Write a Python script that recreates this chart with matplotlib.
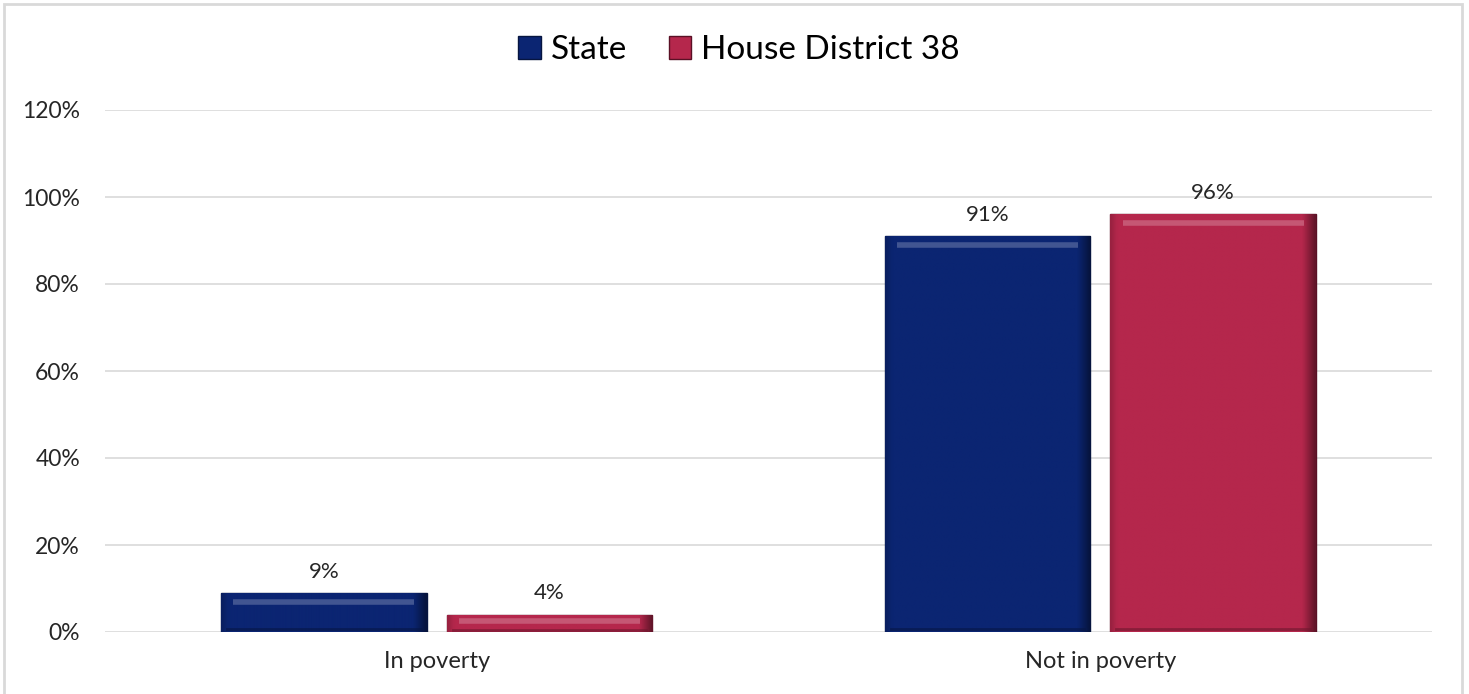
import numpy as np
import matplotlib
matplotlib.use("Agg")
import matplotlib.pyplot as plt
from matplotlib.patches import Rectangle
from matplotlib.colors import to_rgb

categories = ["In poverty", "Not in poverty"]
series_names = ["State", "House District 38"]
state_values = [9, 91]
district_values = [4, 96]
yticks = [0, 20, 40, 60, 80, 100, 120]

colors = ["#0b2572", "#b5274c"]

plt.rcParams['font.family'] = ['Lato', 'DejaVu Sans']

W, H = 1469, 694
fig = plt.figure(figsize=(W / 100, H / 100), dpi=100)
ax = fig.add_axes([105 / W, 1 - 632 / H, (1432 - 105) / W, (632 - 110) / H])

x = np.arange(len(categories))
width = 0.31
offset = 0.17

def bevel(ax, bars, color):
    base = np.array(to_rgb(color))
    for b in bars:
        x0, w, h = b.get_x(), b.get_width(), b.get_height()
        ny, nx = 80, 80
        yy = np.linspace(1, 0, ny)[:, None]
        xx = np.linspace(0, 1, nx)[None, :]
        shade = np.ones((ny, nx))
        shade = shade * (1 - 0.45 * np.clip((xx - 0.94) / 0.06, 0, 1))
        shade = shade * (1 - 0.15 * np.clip((0.03 - xx) / 0.03, 0, 1))
        img = base[None, None, :] * shade[:, :, None]
        im = ax.imshow(np.clip(img, 0, 1), extent=[x0, x0 + w, 0, h],
                       aspect='auto', zorder=3, interpolation='bilinear')
        im.set_clip_path(b)
        hl = base + (1 - base) * 0.3
        d = min(h * 0.35, 2.0)
        ax.plot([x0 + w * 0.06, x0 + w * 0.94], [h - d] * 2,
                color=hl, lw=4, zorder=4, solid_capstyle='butt', alpha=0.75)
        dk = base * 0.6
        ax.plot([x0 + w * 0.03, x0 + w * 0.97], [min(h * 0.12, 0.6)] * 2,
                color=dk, lw=2, zorder=4, alpha=0.6)

b1 = ax.bar(x - offset, state_values, width, color=colors[0], edgecolor="#061540",
            linewidth=1, zorder=2, label=series_names[0])
b2 = ax.bar(x + offset, district_values, width, color=colors[1], edgecolor="#5a1025",
            linewidth=1, zorder=2, label=series_names[1])
bevel(ax, b1, colors[0])
bevel(ax, b2, colors[1])

for bars, vals in ((b1, state_values), (b2, district_values)):
    for b, v in zip(bars, vals):
        ax.annotate(f"{v}%", (b.get_x() + b.get_width() / 2, v), xytext=(0, 8),
                    textcoords="offset points", ha="center", va="bottom",
                    fontsize=16, color="#262626", zorder=5)

ax.set_xlim(-0.5, 1.5)
ax.set_ylim(0, 120)
ax.set_yticks(yticks)
ax.set_yticklabels([f"{t}%" for t in yticks], fontsize=16.5, color="#262626")
ax.set_xticks(x)
ax.set_xticklabels(categories, fontsize=17, color="#262626")
ax.tick_params(axis='both', length=0)
ax.tick_params(axis='y', pad=18)
ax.tick_params(axis='x', pad=14)
ax.grid(axis='y', color="#d9d9d9", linewidth=1.2, zorder=0)
ax.set_axisbelow(True)
for s in ax.spines.values():
    s.set_visible(False)

fig.legend(handles=[b1, b2], labels=series_names, loc="center", bbox_to_anchor=(0.503, 0.928),
           ncol=2, frameon=False, fontsize=24, handlelength=0.67, handleheight=0.67,
           handletextpad=0.3, columnspacing=1.25, borderpad=0.2)

fig.patches.append(Rectangle((4 / W, -0.01), (1462 - 4) / W, 1.01 - 4 / H, transform=fig.transFigure,
                             fill=False, edgecolor="#d9d9d9", linewidth=2))

fig.savefig("out.png", dpi=100, facecolor="white")
